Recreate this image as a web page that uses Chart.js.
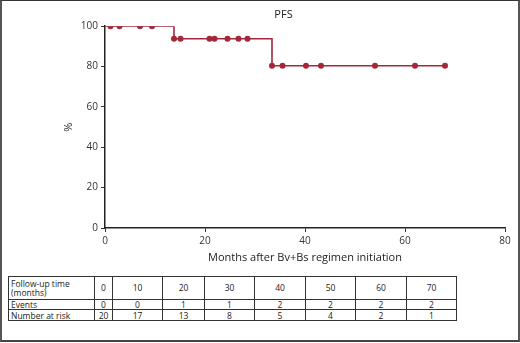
<!DOCTYPE html>
<html>
<head>
<meta charset="utf-8">
<script src="https://cdn.jsdelivr.net/npm/chart.js@4.4.0/dist/chart.umd.min.js"></script>
<style>
  body { margin: 0; background: #fff; font-family: "Open Sans", sans-serif; }
  #frame { position: absolute; left: 0; top: 0; width: 520px; height: 342px; box-sizing: border-box;
    border-left: 2px solid #555; border-top: 1px solid #333; border-right: 2px solid #555; border-bottom: 2px solid #444; pointer-events: none; }
  #wrap { position: absolute; left: 0; top: 0; width: 520px; height: 264px; }
  #risk { position: absolute; left: 8px; top: 276px; border-collapse: collapse; table-layout: fixed; font-size: 8.5px; color: #222; }
  #risk td { border: 1px solid #333; padding: 0 2px; line-height: 1.1; text-align: center; box-sizing: border-box; overflow: hidden; white-space: nowrap; }
  #risk td:first-child { text-align: left; }
</style>
</head>
<body>
<div id="wrap"><canvas id="pfs"></canvas></div>
<table id="risk"></table>
<div id="frame"></div>
<script>
const ctx = document.getElementById("pfs");

// step curve (Kaplan-Meier)
const stepMonths = [0, 13.8, 33.4, 68];
const stepSurv = [100, 93.75, 80.4, 80.4];
// censor marks
const censorMonths = [1.1, 2.9, 7, 9.4, 13.8, 15.1, 20.9, 21.9, 24.5, 26.7, 28.5, 33.4, 35.5, 40.2, 43.2, 54, 62, 68];
const censorSurv = [100, 100, 100, 100, 93.75, 93.75, 93.75, 93.75, 93.75, 93.75, 93.75, 80.4, 80.4, 80.4, 80.4, 80.4, 80.4, 80.4];

// risk table
const followUp = [0, 10, 20, 30, 40, 50, 60, 70];
const events = [0, 0, 1, 1, 2, 2, 2, 2];
const atRisk = [20, 17, 13, 8, 5, 4, 2, 1];

const red = "rgb(163, 40, 58)";
const tickFont = { family: "Open Sans", size: 10 };

const pfsChart = new Chart(ctx, {
  type: "line",
  data: {
    datasets: [
      {
        label: "PFS",
        data: stepMonths.map((m, i) => ({ x: m, y: stepSurv[i] })),
        stepped: "before",
        borderColor: red,
        borderWidth: 1.6,
        pointRadius: 0,
        fill: false,
      },
      {
        label: "Censored",
        data: censorMonths.map((m, i) => ({ x: m, y: censorSurv[i] })),
        showLine: false,
        pointRadius: 3,
        pointBackgroundColor: red,
        pointBorderColor: red,
        pointBorderWidth: 0,
      },
    ],
  },
  options: {
    responsive: true,
    maintainAspectRatio: false,
    animation: false,
    layout: { padding: { left: 62, right: 15, top: 0, bottom: 0 } },
    plugins: {
      legend: { display: false },
      tooltip: { enabled: false },
      title: {
        display: true,
        text: "PFS",
        color: "#222",
        font: { family: "Open Sans", size: 11, weight: "normal" },
        padding: { top: 8, bottom: 5 },
      },
    },
    scales: {
      x: {
        type: "linear",
        min: 0,
        max: 80,
        ticks: { stepSize: 20, color: "#333", font: tickFont, padding: 3.5 },
        grid: { drawOnChartArea: false, drawTicks: true, tickLength: 4, color: "#333" },
        border: { color: "#222", width: 1.5 },
        title: {
          display: true,
          text: "Months after Bv+Bs regimen initiation",
          color: "#222",
          font: { family: "Open Sans", size: 11 },
          padding: { top: 0, bottom: 0 },
        },
        afterFit: (scale) => { scale.height = 36; },
      },
      y: {
        min: 0,
        max: 100,
        ticks: { stepSize: 20, color: "#333", font: tickFont, padding: 3 },
        grid: { drawOnChartArea: false, drawTicks: true, tickLength: 4, color: "#333" },
        border: { color: "#222", width: 1.5 },
        title: {
          display: true,
          text: "%",
          color: "#222",
          font: { family: "Open Sans", size: 11 },
          padding: { top: 0, bottom: 0 },
        },
        afterFit: (scale) => { scale.width = 43; },
      },
    },
  },
});

// build risk table from arrays
const table = document.getElementById("risk");
const colWidths = [86, 18, 50, 42, 50, 51, 50, 51, 50];
const rows = [
  ["Follow-up time<br>(months)", followUp, 23],
  ["Events", events, 10],
  ["Number at risk", atRisk, 11],
];
rows.forEach(([label, vals, h]) => {
  const tr = document.createElement("tr");
  tr.style.height = h + "px";
  const cells = [label, ...vals];
  cells.forEach((v, i) => {
    const td = document.createElement("td");
    td.innerHTML = v;
    td.style.width = colWidths[i] + "px";
    td.style.height = h + "px";
    tr.appendChild(td);
  });
  table.appendChild(tr);
});
</script>
</body>
</html>
